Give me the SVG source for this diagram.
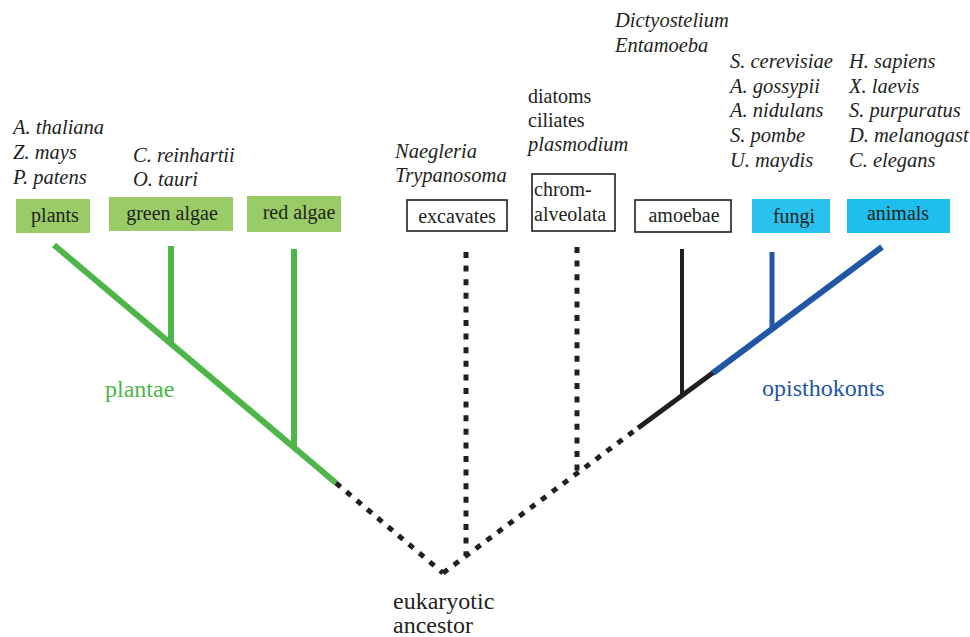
<svg xmlns="http://www.w3.org/2000/svg" width="970" height="637" viewBox="0 0 970 637">
<style>
text{font-family:"Liberation Serif","Times New Roman",serif;fill:#231f20}
.sp{font-size:20.5px;font-style:italic}
.lb{font-size:20px}
.box{font-size:20px;text-anchor:middle}
.big{font-size:24px}
.g{fill:#99cc66}
.c{fill:#29c2ef}
.w{fill:#fff;stroke:#231f20;stroke-width:1.6}
.dot{stroke:#231f20;stroke-width:5;stroke-dasharray:6 7.6;fill:none}
.grn{stroke:#4cb648;stroke-width:6;fill:none}
.blu{stroke:#2155a5;stroke-width:6;fill:none}
.blk{stroke:#231f20;stroke-width:5;fill:none}
</style>
<rect width="970" height="637" fill="#fff"/>
<g id="connectors">
<line class="grn" x1="54" y1="245" x2="336" y2="483"/>
<line class="grn" x1="171" y1="246" x2="171" y2="345"/>
<line class="grn" x1="294" y1="249" x2="294" y2="449"/>
<line class="dot" x1="336" y1="483" x2="443" y2="573"/>
<line class="dot" x1="443" y1="573" x2="638" y2="428"/>
<line class="dot" x1="466" y1="252" x2="466" y2="556"/>
<line class="dot" x1="577" y1="247" x2="577" y2="473"/>
<line class="blk" x1="638" y1="428" x2="714" y2="372"/>
<line class="blk" x1="682" y1="249" x2="682" y2="396" style="stroke-width:4"/>
<line class="blu" x1="713" y1="373" x2="882" y2="247"/>
<line class="blu" x1="772" y1="252" x2="772" y2="330" style="stroke-width:5"/>
</g>
<g id="plants">
<rect class="g" x="16" y="199" width="74" height="34"/>
<text class="box" x="55" y="222">plants</text>
<text class="sp" x="13" y="134">A. thaliana</text>
<text class="sp" x="13" y="159">Z. mays</text>
<text class="sp" x="13" y="184">P. patens</text>
</g>
<g id="green-algae">
<rect class="g" x="109" y="197" width="124" height="34"/>
<text class="box" x="172" y="220">green algae</text>
<text class="sp" x="133" y="162">C. reinhartii</text>
<text class="sp" x="133" y="186">O. tauri</text>
</g>
<g id="red-algae">
<rect class="g" x="247" y="196" width="94" height="36"/>
<text class="box" x="299" y="219">red algae</text>
</g>
<g id="excavates">
<rect class="w" x="407" y="200" width="100" height="31"/>
<text class="box" x="457" y="223">excavates</text>
<text class="sp" x="395" y="158">Naegleria</text>
<text class="sp" x="395" y="182">Trypanosoma</text>
</g>
<g id="chromalveolata">
<rect class="w" x="532" y="174" width="83" height="57"/>
<text class="lb" x="534" y="196">chrom-</text>
<text class="lb" x="534" y="221">alveolata</text>
<text class="lb" x="528" y="103">diatoms</text>
<text class="lb" x="528" y="127">ciliates</text>
<text class="sp" x="528" y="151">plasmodium</text>
</g>
<g id="amoebae">
<rect class="w" x="635" y="200" width="96" height="32"/>
<text class="box" x="684" y="222">amoebae</text>
<text class="sp" x="615" y="27">Dictyostelium</text>
<text class="sp" x="615" y="52">Entamoeba</text>
</g>
<g id="fungi">
<rect class="c" x="752" y="199" width="78" height="34"/>
<text class="box" x="794" y="223">fungi</text>
<text class="sp" x="730" y="68">S. cerevisiae</text>
<text class="sp" x="730" y="93">A. gossypii</text>
<text class="sp" x="730" y="117">A. nidulans</text>
<text class="sp" x="730" y="142">S. pombe</text>
<text class="sp" x="730" y="167">U. maydis</text>
</g>
<g id="animals">
<rect class="c" x="847" y="199" width="103" height="34" style="fill:#1dbfee"/>
<text class="box" x="898" y="220">animals</text>
<text class="sp" x="849" y="68">H. sapiens</text>
<text class="sp" x="849" y="93">X. laevis</text>
<text class="sp" x="849" y="117">S. purpuratus</text>
<text class="sp" x="849" y="142">D. melanogast</text>
<text class="sp" x="849" y="167">C. elegans</text>
</g>
<g id="plantae">
<text class="big" x="105" y="397" style="fill:#4cb648">plantae</text>
</g>
<g id="opisthokonts">
<text class="big" x="762" y="396" style="fill:#2155a5">opisthokonts</text>
</g>
<g id="ancestor">
<text class="big" x="393" y="609">eukaryotic</text>
<text class="big" x="393" y="633">ancestor</text>
</g>
</svg>
